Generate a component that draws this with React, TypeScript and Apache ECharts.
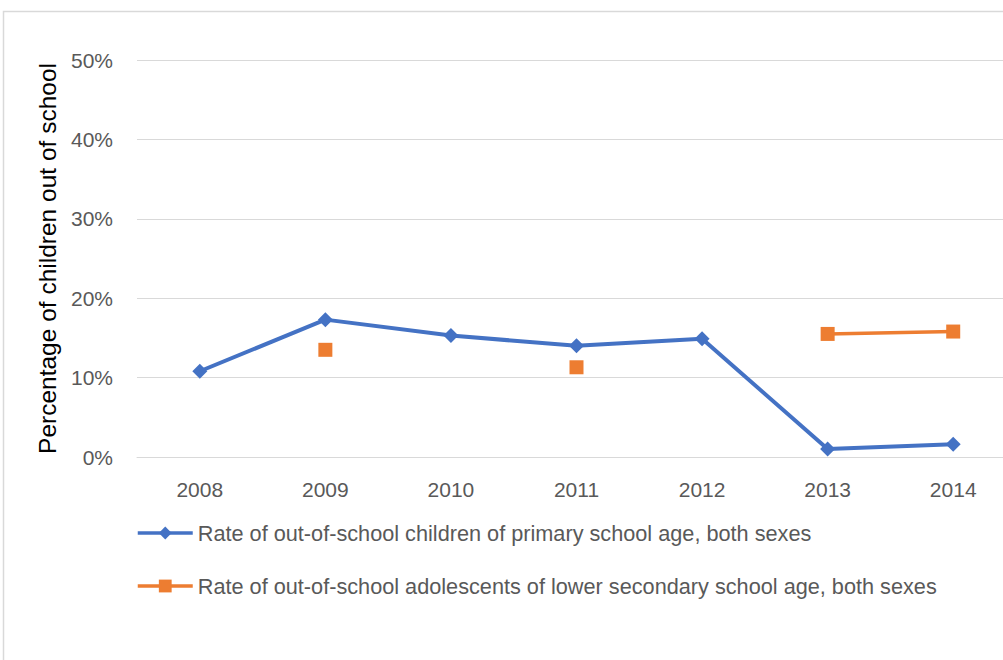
import React, { useEffect, useRef } from "react";
import * as echarts from "echarts";

const years = ["2008", "2009", "2010", "2011", "2012", "2013", "2014"];
const primaryRate = [10.8, 17.3, 15.3, 14.0, 14.9, 1.0, 1.6];
const lowerSecondaryRate = [null, 13.5, null, 11.3, null, 15.5, 15.8];
const primaryName = "Rate of out-of-school children of primary school age, both sexes";
const lowerSecondaryName =
  "Rate of out-of-school adolescents of lower secondary school age, both sexes";

const FONT = "'Liberation Sans', Arial, sans-serif";

export default function App() {
  const ref = useRef<HTMLDivElement>(null);

  useEffect(() => {
    if (!ref.current) return;
    const chart = echarts.init(ref.current, undefined, { renderer: "svg" });
    chart.setOption({
      animation: false,
      backgroundColor: "#ffffff",
      textStyle: { fontFamily: FONT },
      graphic: [
        {
          type: "rect",
          shape: { x: 3.5, y: 11.5, width: 1200, height: 1000 },
          style: { fill: "none", stroke: "#d9d9d9", lineWidth: 1.5 },
          silent: true,
        },
      ],
      grid: { left: 137, right: 0, top: 60, bottom: 203, containLabel: false },
      legend: {
        orient: "vertical",
        left: 131,
        top: 516,
        itemWidth: 55,
        itemHeight: 16,
        itemGap: 29,
        lineStyle: { width: 3.5 },
        textStyle: { fontFamily: FONT, fontSize: 21.7, color: "#595959", lineHeight: 24 },
        data: [primaryName, lowerSecondaryName],
      },
      xAxis: {
        type: "category",
        data: years,
        boundaryGap: true,
        axisLine: { show: true, lineStyle: { color: "#d9d9d9", width: 1 } },
        axisTick: { show: false },
        axisLabel: { margin: 22, fontFamily: FONT, fontSize: 21, color: "#595959" },
      },
      yAxis: {
        type: "value",
        min: 0,
        max: 50,
        interval: 10,
        name: "Percentage of children out of school",
        nameLocation: "middle",
        nameGap: 77,
        nameRotate: 90,
        nameTextStyle: { fontFamily: FONT, fontSize: 24.5, color: "#000000" },
        axisLine: { show: false },
        axisTick: { show: false },
        splitLine: { lineStyle: { color: "#d9d9d9", width: 1 } },
        axisLabel: {
          margin: 24,
          fontFamily: FONT,
          fontSize: 21,
          color: "#595959",
          formatter: "{value}%",
        },
      },
      series: [
        {
          name: primaryName,
          type: "line",
          data: primaryRate,
          symbol: "diamond",
          symbolSize: 15,
          lineStyle: { color: "#4472C4", width: 4 },
          itemStyle: { color: "#4472C4" },
        },
        {
          name: lowerSecondaryName,
          type: "line",
          data: lowerSecondaryRate,
          connectNulls: false,
          symbol: "rect",
          symbolSize: 14,
          lineStyle: { color: "#ED7D31", width: 3.5 },
          itemStyle: { color: "#ED7D31" },
        },
      ],
    });
    return () => chart.dispose();
  }, []);

  return (
    <div style={{ position: "fixed", left: 0, top: 0, width: 1003, height: 660, overflow: "hidden" }}>
      <div ref={ref} style={{ width: 1016, height: 660 }} />
    </div>
  );
}
